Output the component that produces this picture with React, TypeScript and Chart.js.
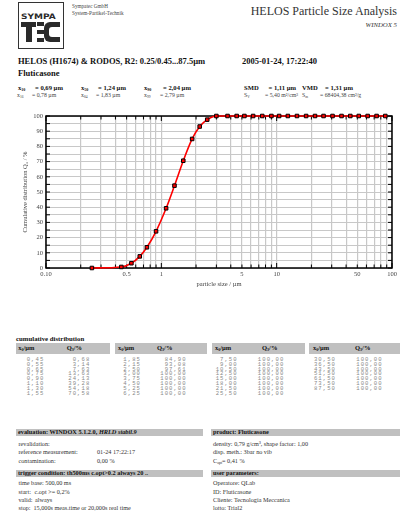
import React, { useEffect, useRef } from "react";
import { Chart, registerables } from "chart.js";

Chart.register(...registerables);

// ---------- data ----------
const particleSizes = [
  0.25, 0.45, 0.55, 0.65, 0.75, 0.9, 1.1, 1.3, 1.55, 1.85, 2.15, 2.5, 3.0, 3.75, 4.5, 5.25, 6.25,
  7.5, 9.0, 10.5, 12.5, 15.0, 18.0, 21.5, 25.5, 30.5, 36.5, 43.5, 51.5, 61.5, 73.5, 87.5,
];
const cumulativeQ3 = [
  0, 0.68, 3.14, 7.63, 13.63, 24.13, 39.28, 54.18, 70.58, 84.9, 93.08, 97.61, 100, 100, 100, 100, 100,
  100, 100, 100, 100, 100, 100, 100, 100, 100, 100, 100, 100, 100, 100, 100,
];
const xGridValues = [
  0.1, 0.2, 0.3, 0.4, 0.5, 0.6, 0.7, 0.8, 0.9, 1, 2, 3, 4, 5, 6, 7, 8, 9, 10, 20, 30, 40, 50, 60, 70,
  80, 90, 100,
];
const xTickValues = [0.1, 0.5, 1, 5, 10, 50, 100];
const xTickTexts = ["0.10", "0.5", "1", "5", "10", "50", "100"];
const yTickValues = [0, 10, 20, 30, 40, 50, 60, 70, 80, 90, 100];
const yTickTexts = ["0", "10", "20", "30", "40", "50", "60", "70", "80", "90", "100"];

const statsMainNames = ["x", "x", "x", "SMD", "VMD"];
const statsMainSubs = ["10", "50", "90", "", ""];
const statsMainValues = ["= 0,69 µm", "= 1,24 µm", "= 2,04 µm", "= 1,11 µm", "= 1,31 µm"];
const statsMinorNames = ["x", "x", "x", "S", "S"];
const statsMinorSubs = ["16", "84", "99", "V", "m"];
const statsMinorValues = ["= 0,78 µm", "= 1,83 µm", "= 2,79 µm", "= 5,40 m²/cm³", "= 68404,38 cm²/g"];

const evaluationRows = ["revalidation:", "reference measurement:", "contamination:"];
const evaluationValues = ["", "01-24 17:22:17", "0,00 %"];
const productRows = ["density: 0,79 g/cm³, shape factor: 1,00", "disp. meth.: 3bar no vib"];
const triggerLabels = ["time base: 500,00 ms", "start:", "valid:", "stop:"];
const triggerValues = ["", "c.opt >= 0,2%", "always", "15,000s meas.time or 20,000s real time"];
const userParams = ["Operatore: QLab", "ID: Fluticasone", "Cliente: Tecnologia Meccanica", "lotto: Trial2"];

// ---------- styles ----------
const SERIF = '"Liberation Serif", "DejaVu Serif", serif';
const MONO = '"Liberation Mono", "DejaVu Sans Mono", monospace';
const SANS = '"DejaVu Sans", "Liberation Sans", sans-serif';
const BAR = "#c0c0c0";

type TxtProps = {
  x: number;
  y: number;
  size?: number;
  bold?: boolean;
  italic?: boolean;
  color?: string;
  align?: "left" | "right";
  font?: string;
  spacing?: number;
  children?: React.ReactNode;
};

function Txt({ x, y, size = 6.2, bold = false, italic = false, color = "#222", align = "left", font = SERIF, spacing = 0, children }: TxtProps) {
  const h = size * 1.3;
  const style: React.CSSProperties = {
    position: "absolute",
    top: y - h / 2,
    height: h,
    lineHeight: h + "px",
    fontSize: size,
    fontWeight: bold ? 700 : 400,
    fontStyle: italic ? "italic" : "normal",
    color,
    fontFamily: font,
    whiteSpace: "nowrap",
    letterSpacing: spacing,
  };
  if (align === "right") {
    style.left = x - 300;
    style.width = 300;
    style.textAlign = "right";
  } else style.left = x;
  return <div style={style}>{children}</div>;
}

function Sub({ children }: { children: React.ReactNode }) {
  return <span style={{ fontSize: "0.62em", verticalAlign: "-0.2em", lineHeight: 0 }}>{children}</span>;
}

function Rect({ x, y, w, h, color }: { x: number; y: number; w: number; h: number; color: string }) {
  return <div style={{ position: "absolute", left: x, top: y, width: w, height: h, background: color }} />;
}

function fmt(v: number) {
  return v.toFixed(2).replace(".", ",");
}

// ---------- chart ----------
const frameAndTicks = {
  id: "frameAndTicks",
  beforeDatasetsDraw(chart: any) {
    const { ctx, chartArea, scales } = chart;
    const { left, right, top, bottom } = chartArea;
    ctx.save();
    ctx.strokeStyle = "#000";
    ctx.lineWidth = 1;
    for (let v = 0; v <= 100; v += 5) {
      const y = scales.y.getPixelForValue(v);
      ctx.beginPath();
      ctx.moveTo(left, y);
      ctx.lineTo(left + 4, y);
      ctx.moveTo(right - 4, y);
      ctx.lineTo(right, y);
      ctx.stroke();
    }
    xGridValues.forEach((v) => {
      const x = scales.x.getPixelForValue(v);
      const decade = Math.abs(Math.log10(v) - Math.round(Math.log10(v))) < 1e-6;
      const len = decade ? 5 : 3.5;
      ctx.beginPath();
      ctx.moveTo(x, bottom);
      ctx.lineTo(x, bottom - len);
      ctx.moveTo(x, top);
      ctx.lineTo(x, top + len);
      ctx.stroke();
    });
    ctx.lineWidth = 1.5;
    ctx.strokeRect(left, top, right - left, bottom - top);
    ctx.restore();
  },
};

function DistributionChart() {
  const ref = useRef<HTMLCanvasElement | null>(null);
  useEffect(() => {
    if (!ref.current) return;
    const chart = new Chart(ref.current, {
      type: "line",
      data: {
        datasets: [
          {
            data: particleSizes.map((x, i) => ({ x, y: cumulativeQ3[i] })),
            borderColor: "#ff0000",
            borderWidth: 1.6,
            cubicInterpolationMode: "monotone",
            pointStyle: "rect",
            pointRadius: 2.5,
            pointBackgroundColor: "#ff0000",
            pointBorderColor: "#000",
            pointBorderWidth: 1,
            fill: false,
            clip: false as any,
          },
        ],
      },
      options: {
        animation: false,
        responsive: false,
        events: [],
        layout: { padding: { left: 0, right: 13, top: 16, bottom: 0 } },
        plugins: { legend: { display: false }, tooltip: { enabled: false } },
        scales: {
          x: {
            type: "logarithmic",
            min: 0.1,
            max: 100,
            afterBuildTicks: (s: any) => {
              s.ticks = xGridValues.map((v) => ({ value: v }));
            },
            afterFit: (s: any) => {
              s.height = 32;
            },
            grid: { color: "#c8c8c8", lineWidth: 1.2, drawTicks: false },
            border: { display: false },
            ticks: {
              autoSkip: false,
              maxRotation: 0,
              padding: 2,
              color: "#444",
              font: { family: SERIF, size: 6.5 },
              callback: (v: any) => {
                const i = xTickValues.findIndex((t) => Math.abs(t - Number(v)) < 1e-9);
                return i >= 0 ? xTickTexts[i] : "";
              },
            },
            title: {
              display: true,
              text: "particle size / µm",
              color: "#444",
              font: { family: SERIF, size: 6.5 },
              padding: { top: 0, bottom: 12 },
            },
          },
          y: {
            type: "linear",
            min: 0,
            max: 100,
            afterFit: (s: any) => {
              s.width = 46;
            },
            grid: { color: "#c8c8c8", lineWidth: 1, drawTicks: false },
            border: { display: false },
            ticks: {
              stepSize: 5,
              autoSkip: false,
              padding: 3,
              color: "#444",
              font: { family: SERIF, size: 6.5 },
              callback: (v: any) => {
                const i = yTickValues.indexOf(Number(v));
                return i >= 0 ? yTickTexts[i] : "";
              },
            },
            title: {
              display: true,
              text: "Cumulative distribution Q₃ / %",
              color: "#444",
              font: { family: SERIF, size: 6.5 },
              padding: { top: 21, bottom: 0 },
            },
          },
        },
      } as any,
      plugins: [frameAndTicks],
    });
    return () => chart.destroy();
  }, []);
  return <canvas ref={ref} width={405} height={200} />;
}

// ---------- page ----------
function Logo() {
  const c = "#2a2a2a";
  return (
    <>
      <div style={{ position: "absolute", left: 18, top: 2, width: 44, height: 45, border: "1px solid #333" }} />
      <div
        style={{
          position: "absolute",
          left: 20.5,
          top: 11.5,
          height: 9,
          lineHeight: "9px",
          fontFamily: SANS,
          fontWeight: 900,
          fontSize: 7.5,
          color: c,
          whiteSpace: "pre",
          transform: "scaleX(1.2)",
          transformOrigin: "left center",
        }}
      >
        SYMPA
      </div>
      {/* T */}
      <Rect x={21} y={22} w={15} h={5} color={c} />
      <Rect x={25.5} y={22} w={6} h={20} color={c} />
      {/* E bars */}
      <Rect x={37} y={22} w={7} h={4} color={c} />
      <Rect x={37} y={30} w={7} h={4} color={c} />
      <Rect x={37} y={38} w={7} h={4} color={c} />
      {/* C */}
      <div style={{ position: "absolute", left: 44, top: 22, width: 16, height: 20, background: c, borderRadius: "6px 0 0 6px" }} />
      <div style={{ position: "absolute", left: 49, top: 27, width: 11, height: 10, background: "#fff", borderRadius: "3px 0 0 3px" }} />
      <Rect x={44} y={30} w={5} h={4} color={c} />
    </>
  );
}

function TableCell({ right, y, text }: { right: number; y: number; text: string }) {
  return (
    <div
      style={{
        position: "absolute",
        left: right - 40,
        width: 40,
        top: y - 2.5,
        height: 5,
        lineHeight: "5px",
        textAlign: "right",
        fontFamily: MONO,
        fontSize: 5.6,
        letterSpacing: 1.05,
        color: "#8a8a8a",
        whiteSpace: "nowrap",
      }}
    >
      {text}
    </div>
  );
}

export default function App() {
  const statX = [18, 81, 144, 244, 302];
  const statEqMain = [35, 98, 163, 268.5, 325];
  const statEqMinor = [32, 96, 160, 265, 320];
  const tableLeft = [16, 115, 212, 309];
  const tableRight = [110, 207, 305, 400];
  const tableXRight = [44.3, 141, 237.7, 336];
  const tableQRight = [90.3, 186.7, 284.3, 382.7];
  const headX = [18.3, 118, 215, 313];
  const headQ = [66.7, 157, 262, 355];
  const rowY = [359.3, 364.2, 369, 373.9, 378.7, 383.6, 388.5, 393.3];
  const triggerValueX = [33, 34.5, 35, 33.5];

  const tableSizes = particleSizes.slice(1);
  const tableQ = cumulativeQ3.slice(1);

  return (
    <div style={{ position: "absolute", left: 0, top: 0, width: 405, height: 516, background: "#fff", overflow: "hidden", fontFamily: SERIF }}>
      <Logo />
      <Txt x={72} y={6} size={5.2} color="#444">Sympatec GmbH</Txt>
      <Txt x={72} y={13.5} size={5.2} color="#444">System-Partikel-Technik</Txt>
      <Txt x={397} y={12} size={12} color="#333" align="right">HELOS Particle Size Analysis</Txt>
      <Txt x={397} y={25} size={6.8} italic color="#333" align="right">WINDOX 5</Txt>

      <Txt x={18} y={62} size={8.5} bold color="#111">HELOS (H1674) &amp; RODOS, R2: 0.25/0.45...87.5µm</Txt>
      <Txt x={242} y={62} size={8.5} bold color="#111">2005-01-24, 17:22:40</Txt>
      <Txt x={18} y={73.5} size={8.5} bold color="#111">Fluticasone</Txt>

      {statsMainNames.map((n, i) => (
        <React.Fragment key={"m" + i}>
          <Txt x={statX[i]} y={88} size={6.6} bold color="#111">
            {n}
            {statsMainSubs[i] ? <Sub>{statsMainSubs[i]}</Sub> : null}
          </Txt>
          <Txt x={statEqMain[i]} y={88} size={6.6} bold color="#111">{statsMainValues[i]}</Txt>
        </React.Fragment>
      ))}
      {statsMinorNames.map((n, i) => (
        <React.Fragment key={"n" + i}>
          <Txt x={statX[i] - (i === 0 ? 1 : 0)} y={95.5} size={5.8} color="#444">
            {n}
            <Sub>{statsMinorSubs[i]}</Sub>
          </Txt>
          <Txt x={statEqMinor[i]} y={95.5} size={5.8} color="#444">{statsMinorValues[i]}</Txt>
        </React.Fragment>
      ))}

      <div style={{ position: "absolute", left: 0, top: 100, width: 405, height: 200 }}>
        <DistributionChart />
      </div>

      <Txt x={16} y={339.5} size={6.8} bold color="#111">cumulative distribution</Txt>
      {tableLeft.map((l, t) => (
        <React.Fragment key={"t" + t}>
          <Rect x={l} y={343} w={tableRight[t] - l} h={10.5} color={BAR} />
          <Txt x={headX[t]} y={348} size={6.5} bold color="#111">
            x<Sub>0</Sub>/µm
          </Txt>
          <Txt x={headQ[t]} y={348} size={6.5} bold color="#111">
            Q<Sub>3</Sub>/%
          </Txt>
          {tableSizes.slice(t * 8, t * 8 + 8).map((s, r) => (
            <React.Fragment key={"r" + r}>
              <TableCell right={tableXRight[t]} y={rowY[r]} text={fmt(s)} />
              <TableCell right={tableQRight[t]} y={rowY[r]} text={fmt(tableQ[t * 8 + r])} />
            </React.Fragment>
          ))}
        </React.Fragment>
      ))}

      {/* evaluation / product */}
      <Rect x={16} y={428.5} w={187} h={7.5} color={BAR} />
      <Rect x={211} y={428.5} w={189} h={7.5} color={BAR} />
      <Txt x={18} y={432.3} size={6.3} bold color="#111">
        evaluation: WINDOX 5.1.2.0, <i>HRLD stabil.9</i>
      </Txt>
      <Txt x={213} y={432.3} size={6.3} bold color="#111">product: Fluticasone</Txt>
      {evaluationRows.map((r, i) => (
        <React.Fragment key={"e" + i}>
          <Txt x={18.5} y={444 + i * 8.35} color="#333">{r}</Txt>
          <Txt x={97} y={444 + i * 8.35} color="#333">{evaluationValues[i]}</Txt>
        </React.Fragment>
      ))}
      {productRows.map((r, i) => (
        <Txt key={"p" + i} x={213} y={444 + i * 8.35} color="#333">{r}</Txt>
      ))}
      <Txt x={213} y={460.7} color="#333">
        C<Sub>opt</Sub>= 0,41 %
      </Txt>

      {/* trigger / user */}
      <Rect x={16} y={469.5} w={187} h={7.5} color={BAR} />
      <Rect x={211} y={469.5} w={189} h={7.5} color={BAR} />
      <Txt x={18} y={473.3} size={6.3} bold color="#111">trigger condition: th500ms c.opt&gt;0.2 always 20 ..</Txt>
      <Txt x={213} y={473.3} size={6.3} bold color="#111">user parameters:</Txt>
      {triggerLabels.map((r, i) => (
        <React.Fragment key={"g" + i}>
          <Txt x={18.5} y={483.3 + i * 8.35} color="#333">{r}</Txt>
          <Txt x={triggerValueX[i]} y={483.3 + i * 8.35} color="#333">{triggerValues[i]}</Txt>
        </React.Fragment>
      ))}
      {userParams.map((r, i) => (
        <Txt key={"u" + i} x={213} y={483.3 + i * 8.35} color="#333">{r}</Txt>
      ))}
    </div>
  );
}
